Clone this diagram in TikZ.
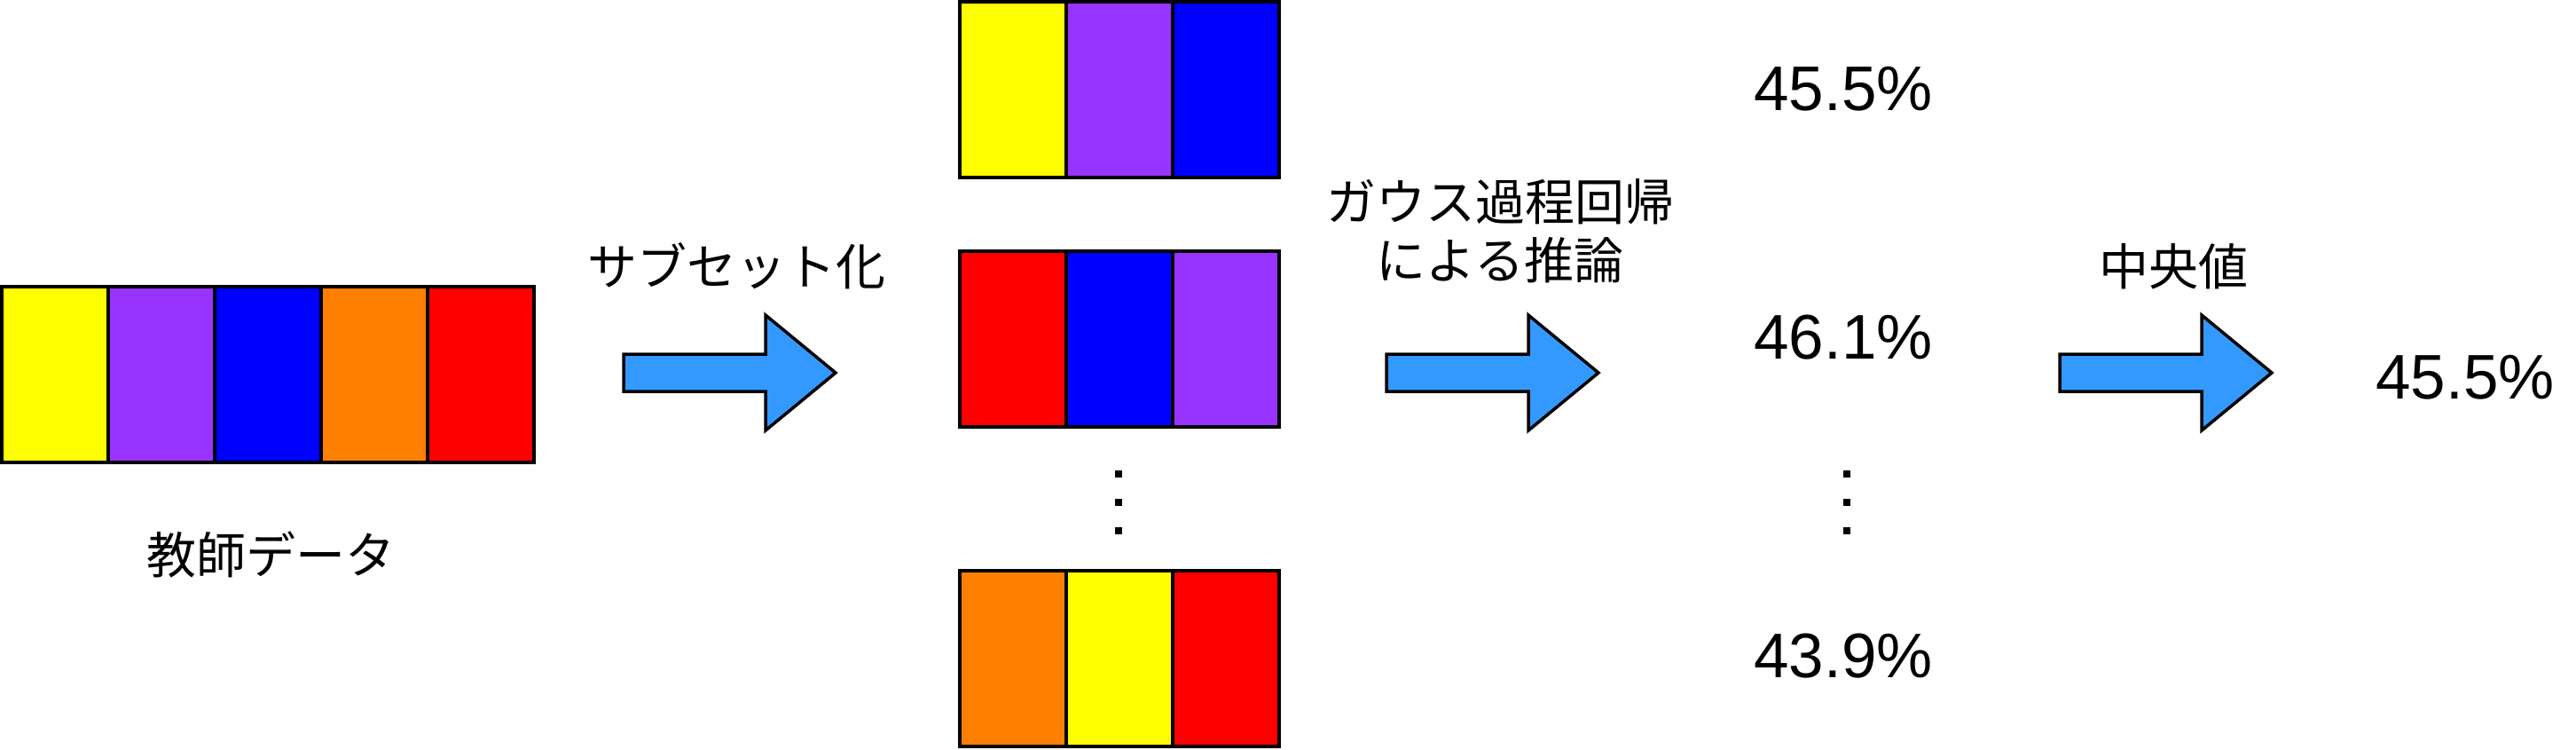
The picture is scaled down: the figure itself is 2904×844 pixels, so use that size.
\documentclass[tikz,border=0pt]{standalone}
\usepackage{fontspec}
\setmainfont{Liberation Sans}
\newfontfamily\jpfont{Noto Sans CJK JP}
\definecolor{cY}{HTML}{FFFF00}
\definecolor{cP}{HTML}{9933FF}
\definecolor{cB}{HTML}{0000FF}
\definecolor{cO}{HTML}{FF8000}
\definecolor{cR}{HTML}{FF0000}
\definecolor{arrowblue}{HTML}{3399FF}
\begin{document}
\begin{tikzpicture}[x=1pt,y=-1pt,
  cell/.style={draw=black, line width=4pt, rectangle, inner sep=0pt, outer sep=0pt,
    minimum width=120pt, minimum height=198pt},
  mcell/.style={cell, minimum width=120pt},
  dotsq/.style={fill=black, rectangle, inner sep=0pt, minimum size=8pt},
  jplabel/.style={font=\jpfont\fontsize{56}{66}\selectfont, inner sep=0pt, align=center},
  numlabel/.style={font=\fontsize{71}{80}\selectfont, inner sep=0pt, anchor=base},
  blockarrow/.style={draw=black, fill=arrowblue, line width=3.5pt, line join=miter}]
\useasboundingbox (0,0) rectangle (2904,844);
% teacher data
\foreach \c [count=\i] in {cY,cP,cB,cO,cR}
  \node[cell, fill=\c] (L\i) at ({2+120*(\i-0.5)},422) {};
\node[jplabel] (teach) at (305,625) {教師データ};
% subsets
\foreach \c [count=\i] in {cY,cP,cB}
  \node[mcell, fill=\c] (A\i) at ({1082+120*(\i-0.5)},101) {};
\foreach \c [count=\i] in {cR,cB,cP}
  \node[mcell, fill=\c] (B\i) at ({1082+120*(\i-0.5)},382) {};
\foreach \c [count=\i] in {cO,cY,cR}
  \node[mcell, fill=\c] (C\i) at ({1082+120*(\i-0.5)},742) {};
\node[dotsq] (ld1) at (1261,534) {};
\node[dotsq] (ld2) at (1261,566) {};
\node[dotsq] (ld3) at (1261,598) {};
% arrows
\coordinate (a1) at (703,420);
\coordinate (a2) at (1563,420);
\coordinate (a3) at (2322,420);
\foreach \a in {a1,a2,a3}
  \draw[blockarrow] (\a) ++(0,-21) -- ++(160,0) -- ++(0,-44) -- ++(79,65)
     -- ++(-79,65) -- ++(0,-44) -- ++(-160,0) -- cycle;
\node[jplabel] (sub) at (830,300) {サブセット化};
\node[jplabel] (gp) at (1691,260) {ガウス過程回帰\\による推論};
\node[jplabel] (med) at (2450,300) {中央値};
% results
\node[numlabel] (r1) at (2078,124) {45.5\%};
\node[numlabel] (r2) at (2078,404) {46.1\%};
\node[numlabel] (r3) at (2078,763) {43.9\%};
\node[dotsq] (rd1) at (2082,534) {};
\node[dotsq] (rd2) at (2082,566) {};
\node[dotsq] (rd3) at (2082,598) {};
\node[numlabel] (fin) at (2779,449) {45.5\%};
\end{tikzpicture}
\end{document}
